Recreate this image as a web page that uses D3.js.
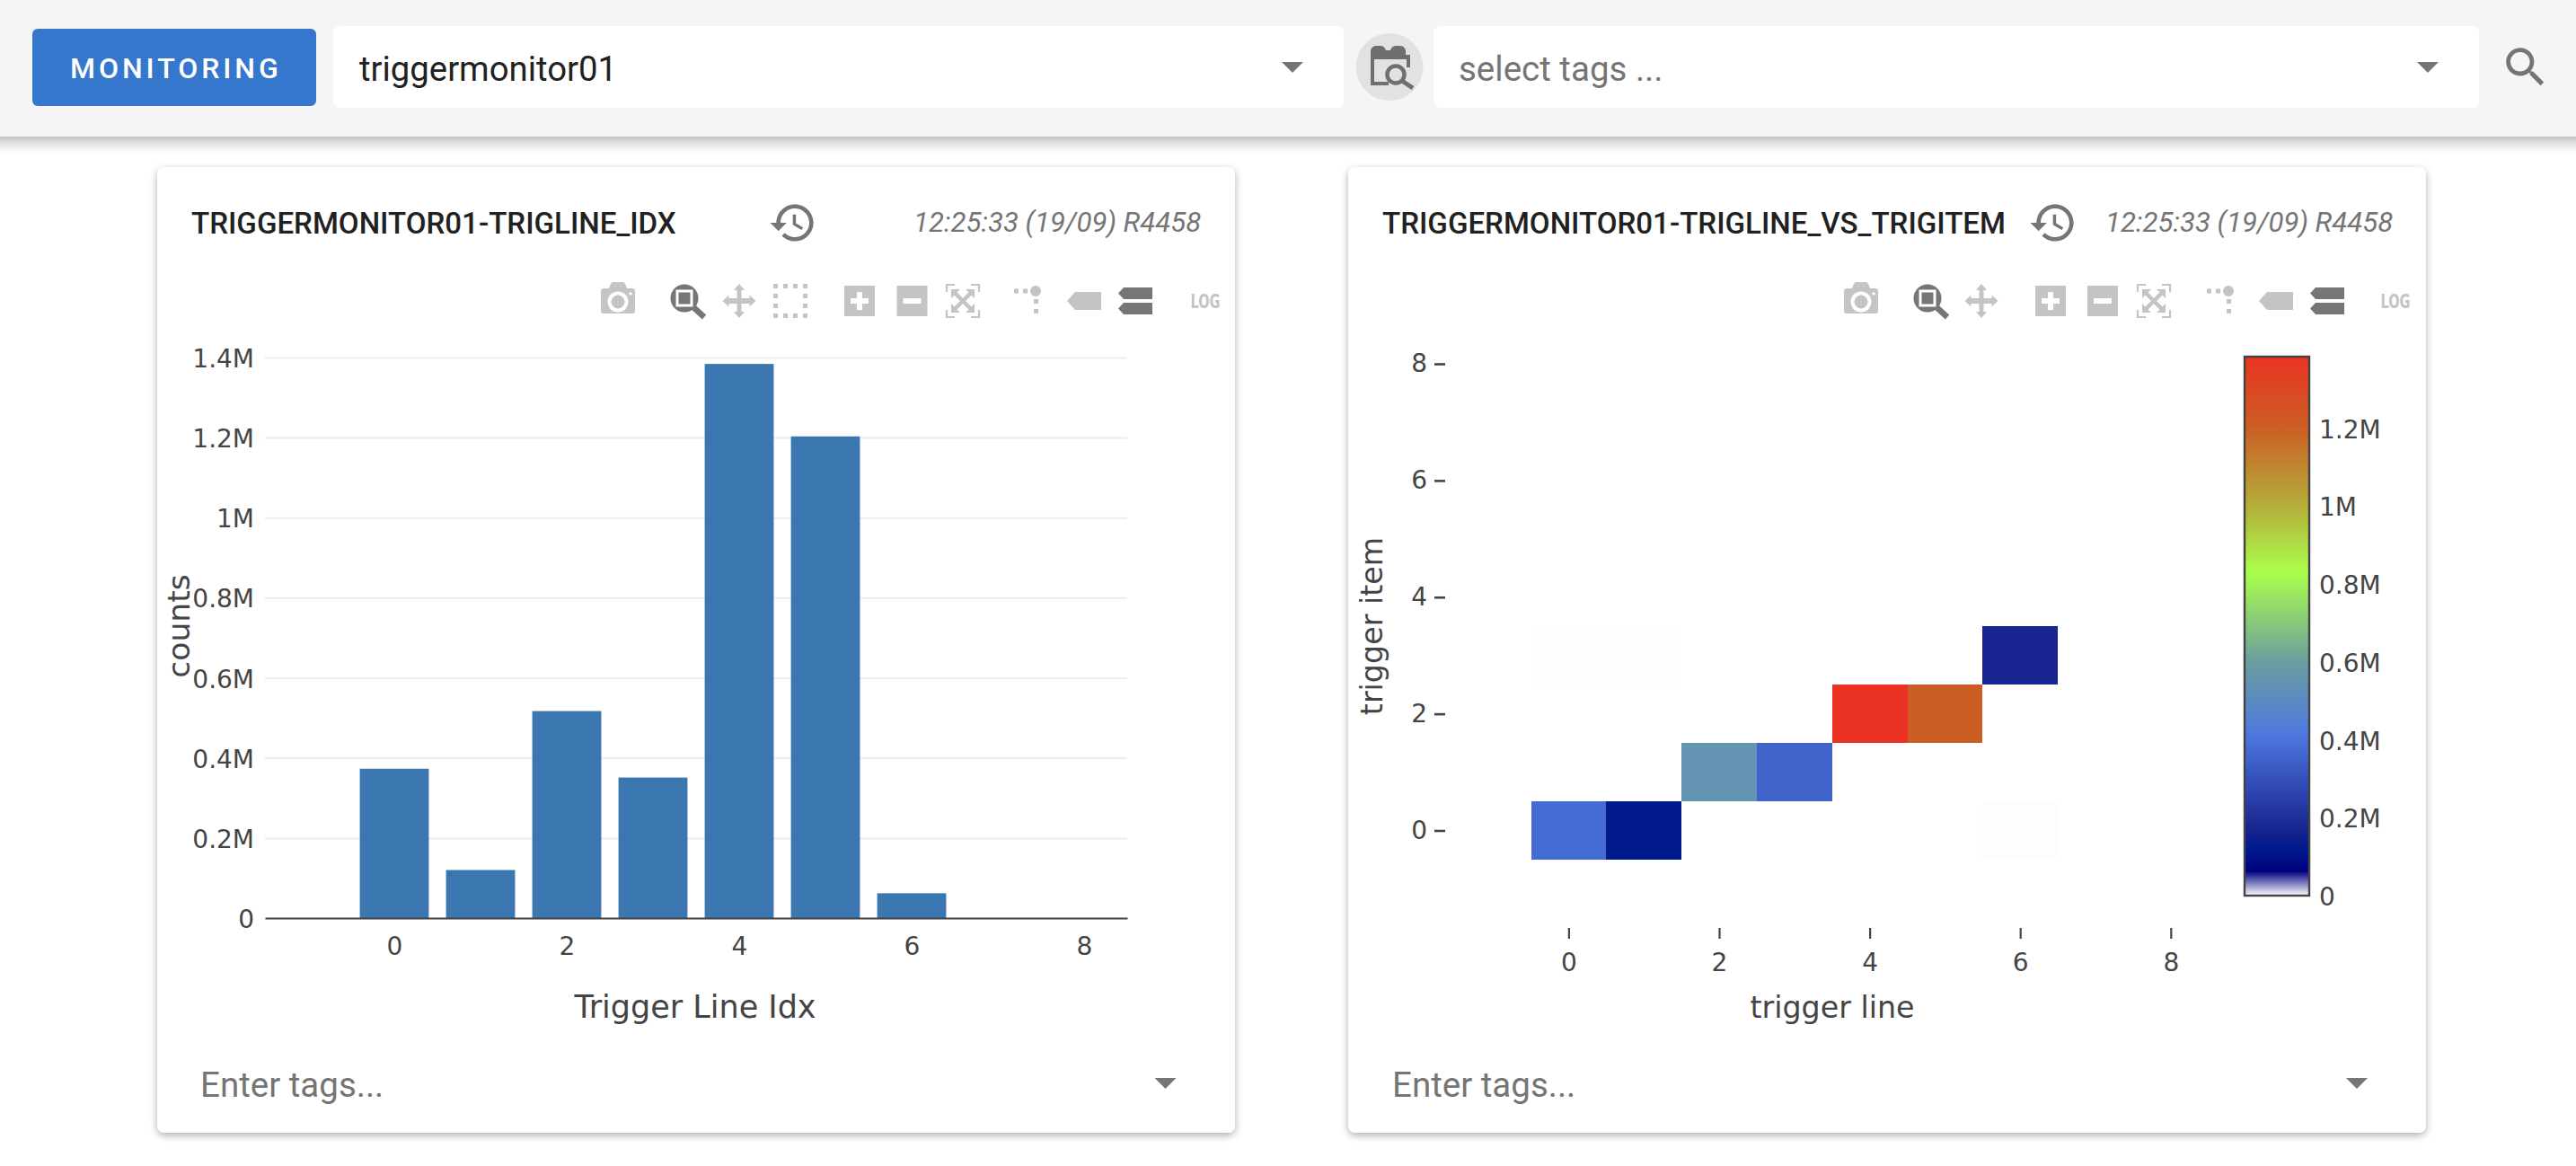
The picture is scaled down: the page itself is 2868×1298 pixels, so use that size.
<!DOCTYPE html>
<html><head><meta charset="utf-8">
<script src="https://cdn.jsdelivr.net/npm/d3@7"></script>
<style>
html,body{margin:0;padding:0;background:#fff;overflow:hidden}
svg{display:block}
text{font-family:"DejaVu Sans",sans-serif}
.ui{font-family:Roboto,sans-serif}
</style></head><body>
<svg id="c" width="2868" height="1298" xmlns="http://www.w3.org/2000/svg"></svg>
<script>
// ---------- data ----------
const trigLines=[0,1,2,3,4,5,6,7,8];
const trigCounts=[373000,120000,517000,351000,1384000,1203000,62000,0,0];
const xTicks=[0,2,4,6,8];
const yTicksBar=[0,200000,400000,600000,800000,1000000,1200000,1400000];
const heatLine=[0,1,2,3,4,5,6,0,1,6];
const heatItem=[0,0,1,1,2,2,3,3,3,0];
const heatValue=[373000,120000,550000,351000,1384000,1203000,170000,300,300,400];
const heatYTicks=[0,2,4,6,8];
const cbTicks=[0,200000,400000,600000,800000,1000000,1200000];
const cbStops=[0,63000,120000,170000,412000,600000,830000,1000000,1200000,1384000];
const cbColors=['#ffffff','#00007f','#001a8e','#18248f','#4d78e0','#6b9ea0','#aaff4a','#b4ae3a','#cb5f25','#ea3322'];
const fmtM=v=>v===0?'0':(v/1e6)+'M';

const svg=d3.select('#c');
const defs=svg.append('defs');
const f1=defs.append('filter').attr('id','cardS').attr('x','-5%').attr('y','-5%').attr('width','110%').attr('height','110%');
f1.append('feDropShadow').attr('dx',0).attr('dy',3).attr('stdDeviation',4).attr('flood-color','#000').attr('flood-opacity',.32);
const f2=defs.append('filter').attr('id','barS').attr('x','-2%').attr('y','-20%').attr('width','104%').attr('height','150%');
f2.append('feDropShadow').attr('dx',0).attr('dy',5).attr('stdDeviation',8).attr('flood-color','#000').attr('flood-opacity',.32);

// ---------- page chrome ----------
svg.append('rect').attr('width',2868).attr('height',1298).attr('fill','#fff');
function card(x){
  svg.append('rect').attr('x',x).attr('y',186).attr('width',1200).attr('height',1075).attr('rx',8).attr('fill','#fff').attr('filter','url(#cardS)');
}
card(175);card(1501);
svg.append('rect').attr('x',-30).attr('y',-20).attr('width',2930).attr('height',172).attr('fill','#f5f5f5').attr('filter','url(#barS)');
svg.append('rect').attr('x',36).attr('y',32).attr('width',316).attr('height',86).attr('rx',6).attr('fill','#3477cc');
const ui=(x,y,t,size,fill,w,extra)=>{const e=svg.append('text').attr('class','ui').attr('x',x).attr('y',y).attr('font-size',size).attr('fill',fill).attr('font-weight',w||400).text(t);if(extra)extra(e);return e;};
ui(78,87,'MONITORING',32,'#fff',500,e=>e.attr('letter-spacing',3.95));
[[371,1125],[1596,1164]].forEach(([x,w])=>svg.append('rect').attr('x',x).attr('y',29).attr('width',w).attr('height',91).attr('rx',8).attr('fill','#fff'));
ui(400,90,'triggermonitor01',38.3,'#212121');
ui(1624,90,'select tags ...',38.5,'#757575');
const tri=(cx,cy,w,h)=>svg.append('path').attr('d',`M${cx-w/2} ${cy-h/2}H${cx+w/2}L${cx} ${cy+h/2}Z`).attr('fill','#757575');
tri(1439,75,24,12);tri(2703,75,24,12);
const mat=(d,x,y,s,fill)=>svg.append('path').attr('d',d).attr('transform',`translate(${x},${y}) scale(${s})`).attr('fill',fill||'#757575');
const SEARCH='M15.5 14h-.79l-.28-.27C15.41 12.59 16 11.11 16 9.5 16 5.91 13.09 3 9.5 3S3 5.91 3 9.5 5.91 16 9.5 16c1.61 0 3.09-.59 4.23-1.57l.27.28v.79l5 4.99L20.49 19l-4.99-5zm-6 0C7.01 14 5 11.99 5 9.5S7.01 5 9.5 5 14 7.01 14 9.5 11.99 14 9.5 14z';
const HIST='M13 3c-4.97 0-9 4.03-9 9H1l3.89 3.89.07.14L9 12H6c0-3.87 3.13-7 7-7s7 3.13 7 7-3.13 7-7 7c-1.93 0-3.68-.79-4.94-2.06l-1.42 1.42C8.27 19.99 10.51 21 13 21c4.97 0 9-4.03 9-9s-4.03-9-9-9zm-1 5v5l4.28 2.54.72-1.21-3.5-2.08V8H12z';
mat(SEARCH,2783,46,2.4);
svg.append('circle').attr('cx',1547).attr('cy',74.5).attr('r',37.5).attr('fill','#e2e2e2');
// calendar-search icon
svg.append('path').attr('fill','#6f6f6f').attr('d','M1526 61v-5a7 7 0 0 1 7-5h3a7 7 0 0 1 7 5h5a7 7 0 0 1 7-5h3a7 7 0 0 1 7 5v5h5v14h-4v-9h-36v25h16v4h-20v-34z');
svg.append('circle').attr('cx',1554).attr('cy',83).attr('r',9.5).attr('fill','none').attr('stroke','#6f6f6f').attr('stroke-width',4.5);
svg.append('line').attr('x1',1561).attr('y1',90).attr('x2',1573).attr('y2',98).attr('stroke','#6f6f6f').attr('stroke-width',5);

// ---------- card headers ----------
function header(titleX,title,iconCx,dateX){
  ui(titleX,260,title,33.1,'#212121',500);
  mat(HIST,iconCx-13*2.29,248-12*2.29,2.29);
  ui(dateX,258,'12:25:33 (19/09) R4458',31.2,'#757575',400,e=>e.attr('font-style','italic'));
}
header(213,'TRIGGERMONITOR01-TRIGLINE_IDX',885,1017);
header(1539,'TRIGGERMONITOR01-TRIGLINE_VS_TRIGITEM',2288,2344);
function tags(x,ax){
  ui(x,1221,'Enter tags...',38.5,'#757575');
  tri(ax,1206,24,12);
}
tags(223,1297.5);tags(1550,2624);

// ---------- modebar icons ----------
const L='#c4c4c4',D='#767676';
function ico(x,fn){const g=svg.append('g').attr('transform',`translate(${x},335)`);fn(g);}
const camera=g=>{g.append('path').attr('fill',L).attr('d','M-19 -11a3 3 0 0 1 3-3h6l2-5a3 3 0 0 1 3-2h10a3 3 0 0 1 3 2l2 5h6a3 3 0 0 1 3 3v22a3 3 0 0 1-3 3h-32a3 3 0 0 1-3-3z');
  g.append('circle').attr('cy',1).attr('r',9.5).attr('fill','none').attr('stroke','#fff').attr('stroke-width',4);
  g.append('circle').attr('cx',14).attr('cy',-8).attr('r',1.8).attr('fill','#fff');};
const zoomI=g=>{g.append('circle').attr('cx',-2).attr('cy',-3).attr('r',15.5).attr('fill',D);
  g.append('rect').attr('x',-10).attr('y',-11).attr('width',16).attr('height',16).attr('fill',D).attr('stroke','#fff').attr('stroke-width',3);
  g.append('line').attr('x1',8).attr('y1',7).attr('x2',20).attr('y2',18).attr('stroke',D).attr('stroke-width',6.5);};
const pan=g=>{g.append('path').attr('fill',L).attr('d','M0-19l6 7h-3.500v9h9v-3.500l7 6.500-7 6.500v-3.500h-9v9h3.500l-6 7-6-7h3.500v-9h-9v3.500l-7-6.500 7-6.500v3.500h9v-9h-3.500z');};
const sel=g=>{[-19,-8,3,14].forEach(a=>{[-19,14].forEach(b=>{g.append('rect').attr('x',a).attr('y',b).attr('width',5).attr('height',5).attr('fill',L);
  g.append('rect').attr('x',b).attr('y',a).attr('width',5).attr('height',5).attr('fill',L);});});};
const plus=g=>{g.append('rect').attr('x',-17).attr('y',-17).attr('width',34).attr('height',34).attr('fill',L);
  g.append('path').attr('fill','#fff').attr('d','M-3-10h6v7h7v6h-7v7h-6v-7h-7v-6h7z');};
const minus=g=>{g.append('rect').attr('x',-17).attr('y',-17).attr('width',34).attr('height',34).attr('fill',L);
  g.append('rect').attr('x',-10).attr('y',-3).attr('width',20).attr('height',6).attr('fill','#fff');};
const auto=g=>{g.append('path').attr('fill','none').attr('stroke',L).attr('stroke-width',2.2).attr('d','M-18-10v-8h9M9-18h9v8M18 10v8h-9M-9 18h-9v-8');
  g.append('path').attr('fill','none').attr('stroke',L).attr('stroke-width',4.500).attr('d','M-10-10L10 10M10-10L-10 10');
  g.append('path').attr('fill',L).attr('d','M-13-13h10l-10 10zM13-13v10l-10-10zM-13 13v-10l10 10zM13 13h-10l10-10z');};
const spike=g=>{g.append('circle').attr('cx',9).attr('cy',-11).attr('r',6).attr('fill',L);
  [[-15,-13.500],[-5,-13.500],[7,-2],[7,9]].forEach(([a,b])=>g.append('rect').attr('x',a).attr('y',b).attr('width',5).attr('height',5).attr('fill',L));};
const closest=g=>{g.append('path').attr('fill',L).attr('d','M-19 0l9-10h29v20h-29z');};
const compare=g=>{[-15,2].forEach(b=>g.append('path').attr('fill',D).attr('d',`M-19 ${b+6.500}l6-6.500h32v13h-32z`));};
const logI=g=>{g.append('text').attr('x',-16.500).attr('y',8).attr('font-size',22).attr('font-weight',700).attr('fill',L).attr('textLength',33).attr('lengthAdjust','spacingAndGlyphs').text('LOG');};
[[688,camera],[764,zoomI],[823,pan],[880,sel],[957,plus],[1015.500,minus],[1072,auto],[1144,spike],[1207,closest],[1264,compare],[1342,logI]].forEach(([x,f])=>ico(x,f));
[[2072,camera],[2148,zoomI],[2206,pan],[2283,plus],[2341,minus],[2398,auto],[2472,spike],[2534,closest],[2591,compare],[2667,logI]].forEach(([x,f])=>ico(x,f));

// ---------- bar chart ----------
const tc='#444';
const bx=d3.scaleLinear().domain([-1.5,8.5]).range([295,1255]);
const by=d3.scaleLinear().domain([0,1400000]).range([1022,398]);
const bar=svg.append('g');
const gy=bar.append('g').attr('transform','translate(295,0)').call(d3.axisLeft(by).tickValues(yTicksBar).tickFormat(fmtM).tickSize(-960).tickPadding(12));
gy.select('.domain').remove();
gy.selectAll('line').attr('stroke','#eee').attr('stroke-width',2.2);
gy.selectAll('text').attr('fill',tc).attr('font-size',28).attr('font-family','"DejaVu Sans"').attr('y',1.5);
const barW=0.8*(bx(1)-bx(0));
bar.selectAll('rect.b').data(trigLines).join('rect').attr('class','b')
  .attr('x',d=>bx(d)-barW/2).attr('width',barW)
  .attr('y',(d,i)=>by(trigCounts[i])).attr('height',(d,i)=>by(0)-by(trigCounts[i]))
  .attr('fill','#3a76b0');
const gx=bar.append('g').attr('transform','translate(0,1022)').call(d3.axisBottom(bx).tickValues(xTicks).tickFormat(d3.format('d')).tickSize(0).tickPadding(21));
gx.select('.domain').attr('stroke','#444').attr('stroke-width',2.2);
gx.selectAll('text').attr('fill',tc).attr('font-size',28).attr('font-family','"DejaVu Sans"');
bar.append('text').attr('x',774).attr('y',1133).attr('text-anchor','middle').attr('font-size',35).attr('fill',tc).text('Trigger Line Idx');
bar.append('text').attr('transform','translate(211,697) rotate(-90)').attr('text-anchor','middle').attr('font-size',34.5).attr('fill',tc).text('counts');

// ---------- heatmap ----------
const hx=d3.scaleLinear().domain([0,8]).range([1746.4,2416.8]);
const hy=d3.scaleLinear().domain([0,8]).range([924.5,405]);
const color=d3.scaleLinear().domain(cbStops).range(cbColors).clamp(true);
const heat=svg.append('g');
heat.selectAll('rect.c').data(heatLine).join('rect').attr('class','c')
  .attr('x',d=>hx(d-0.5)).attr('width',d=>hx(d+0.5)-hx(d-0.5))
  .attr('y',(d,i)=>hy(heatItem[i]+0.5)).attr('height',(d,i)=>hy(heatItem[i]-0.5)-hy(heatItem[i]+0.5))
  .attr('fill',(d,i)=>color(heatValue[i])).attr('shape-rendering','crispEdges');
const hgx=heat.append('g').attr('transform','translate(0,1033)').call(d3.axisBottom(hx).tickValues(xTicks).tickFormat(d3.format('d')).tickSize(12).tickPadding(16));
hgx.select('.domain').remove();
hgx.selectAll('line').attr('stroke','#444').attr('stroke-width',2.2);
hgx.selectAll('text').attr('fill',tc).attr('font-size',28).attr('font-family','"DejaVu Sans"');
const hgy=heat.append('g').attr('transform','translate(1609,0)').call(d3.axisLeft(hy).tickValues(heatYTicks).tickFormat(d3.format('d')).tickSize(12).tickPadding(8));
hgy.select('.domain').remove();
hgy.selectAll('line').attr('stroke','#444').attr('stroke-width',2.6);
hgy.selectAll('text').attr('fill',tc).attr('font-size',28).attr('font-family','"DejaVu Sans"');
heat.append('text').attr('x',2040).attr('y',1133).attr('text-anchor','middle').attr('font-size',33.3).attr('fill',tc).text('trigger line');
heat.append('text').attr('transform','translate(1539,697) rotate(-90)').attr('text-anchor','middle').attr('font-size',33.3).attr('fill',tc).text('trigger item');

// ---------- colourbar ----------
const cbY=d3.scaleLinear().domain([0,1384000]).range([997,397]);
const grad=defs.append('linearGradient').attr('id','cbg').attr('x1',0).attr('x2',0).attr('y1',1).attr('y2',0);
cbStops.forEach((s,i)=>grad.append('stop').attr('offset',s/1384000).attr('stop-color',cbColors[i]));
heat.append('rect').attr('x',2499).attr('y',cbY(1384000)).attr('width',72).attr('height',cbY(0)-cbY(1384000)).attr('fill','url(#cbg)').attr('stroke','#444').attr('stroke-width',2.4);
const gcb=heat.append('g').attr('transform','translate(2571,0)').call(d3.axisRight(cbY).tickValues(cbTicks).tickFormat(fmtM).tickSize(0).tickPadding(11));
gcb.select('.domain').remove();
gcb.selectAll('text').attr('fill',tc).attr('font-size',28).attr('font-family','"DejaVu Sans"').attr('y',1.5);
</script>
</body></html>
